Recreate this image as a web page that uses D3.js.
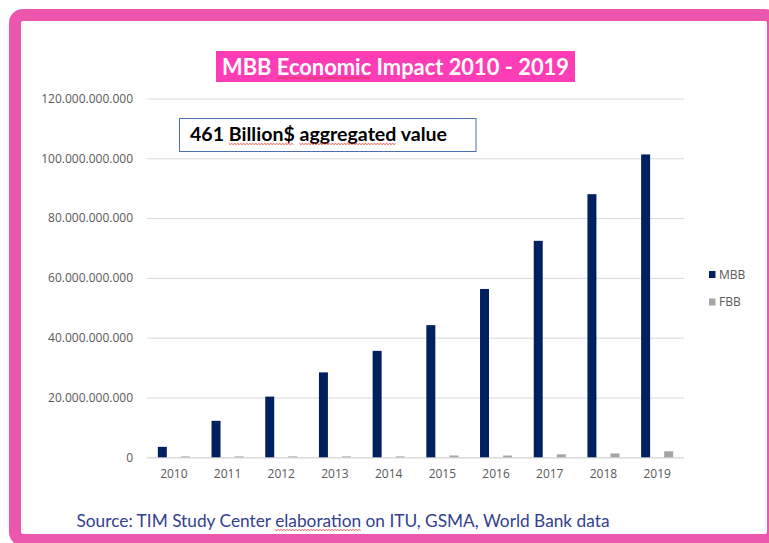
<!DOCTYPE html>
<html>
<head>
<meta charset="utf-8">
<script src="https://cdn.jsdelivr.net/npm/d3@7"></script>
<style>
  body { margin: 0; background: #ffffff; }
  svg { display: block; }
</style>
</head>
<body>
<div id="chart"></div>
<script>
// chart values (billions of $)
let years = ["2010", "2011", "2012", "2013", "2014", "2015", "2016", "2017", "2018", "2019"];
let mbbValues = [3.5, 12.2, 20.3, 28.4, 35.6, 44.2, 56.3, 72.4, 88.0, 101.3];
let fbbValues = [0.3, 0.3, 0.3, 0.3, 0.3, 0.6, 0.6, 1.0, 1.3, 2.0];
let seriesNames = ["MBB", "FBB"];
let seriesColors = ["#002060", "#a5a5a5"];
let yTicks = [0, 20, 40, 60, 80, 100, 120];

let titleText = "MBB Economic Impact 2010 - 2019";
let noteText = "461 Billion$ aggregated value";
let sourceText = "Source: TIM Study Center elaboration on ITU, GSMA, World Bank data";

let width = 769, height = 543;

let svg = d3.select("#chart").append("svg")
	.attr("width", width)
	.attr("height", height);

// pink frame round the slide
svg.append("rect")
	.attr("x", 15)
	.attr("y", 15)
	.attr("width", 758)
	.attr("height", 525)
	.attr("rx", 8)
	.attr("fill", "none")
	.attr("stroke", "#ec56ac")
	.attr("stroke-width", 12);

// scales
let x = d3.scaleBand()
	.domain(years)
	.range([147, 684]);

let x1 = d3.scaleBand()
	.domain(seriesNames)
	.range([0, x.bandwidth()])
	.paddingInner(0.61)
	.paddingOuter(0.47);

let y = d3.scaleLinear()
	.domain([0, 120])
	.range([457.3, 98.5]);

let fmt = d => d3.format(",")(d * 1e9).replace(/,/g, ".");

// gridlines + y labels
let yAxis = svg.append("g")
	.attr("transform", "translate(147,0)")
	.call(d3.axisLeft(y).tickValues(yTicks).tickSize(-(684 - 147)).tickPadding(14).tickFormat(fmt));
yAxis.select(".domain").remove();
yAxis.selectAll(".tick line").attr("stroke", "#d9d9d9");
yAxis.selectAll(".tick text")
	.attr("fill", "#595959")
	.attr("font-family", "Open Sans")
	.attr("font-size", 12);

// x labels
let xAxis = svg.append("g")
	.attr("transform", "translate(0,457.3)")
	.call(d3.axisBottom(x).tickSize(0).tickPadding(12));
xAxis.select(".domain").attr("stroke", "#d9d9d9");
xAxis.selectAll(".tick text")
	.attr("fill", "#595959")
	.attr("font-family", "Open Sans")
	.attr("font-size", 12);

// bars
let rows = years.map((yr, i) => ({year: yr, MBB: mbbValues[i], FBB: fbbValues[i]}));

let groups = svg.append("g").selectAll("g")
	.data(rows)
	.enter()
	.append("g")
	.attr("transform", d => "translate(" + x(d.year) + ",0)");

groups.selectAll("rect")
	.data(d => seriesNames.map((s, j) => ({key: s, value: d[s], color: seriesColors[j]})))
	.enter()
	.append("rect")
	.attr("x", d => x1(d.key))
	.attr("width", x1.bandwidth())
	.attr("y", d => y(d.value))
	.attr("height", d => y(0) - y(d.value))
	.attr("fill", d => d.color);

// legend
let legend = svg.append("g").attr("transform", "translate(709,271)");
seriesNames.forEach((s, i) => {
	legend.append("rect")
		.attr("x", 0)
		.attr("y", i * 27.5)
		.attr("width", 6.5)
		.attr("height", 7)
		.attr("fill", seriesColors[i]);
	legend.append("text")
		.attr("x", 10)
		.attr("y", i * 27.5 + 3.5)
		.attr("dy", "0.35em")
		.attr("fill", "#595959")
		.attr("font-family", "Open Sans")
		.attr("font-size", 12)
		.text(s);
});

// title box
svg.append("rect")
	.attr("x", 216)
	.attr("y", 51)
	.attr("width", 359)
	.attr("height", 31)
	.attr("fill", "#fd3db5");

let title = svg.append("text")
	.attr("x", 222)
	.attr("y", 74.5)
	.attr("fill", "#ffffff")
	.attr("font-family", "Lato")
	.attr("font-weight", "bold")
	.attr("font-size", 22)
	.attr("textLength", 347)
	.attr("lengthAdjust", "spacingAndGlyphs")
	.text(titleText);

// annotation box
svg.append("rect")
	.attr("x", 179.5)
	.attr("y", 118.5)
	.attr("width", 296.5)
	.attr("height", 33)
	.attr("fill", "#ffffff")
	.attr("stroke", "#4f6fae")
	.attr("stroke-width", 1);

let note = svg.append("text")
	.attr("x", 190)
	.attr("y", 140.5)
	.attr("fill", "#000000")
	.attr("font-family", "Lato")
	.attr("font-weight", "bold")
	.attr("font-size", 18)
	.attr("textLength", 257)
	.attr("lengthAdjust", "spacingAndGlyphs")
	.text(noteText);

// source line
let source = svg.append("text")
	.attr("x", 76.5)
	.attr("y", 526.5)
	.attr("fill", "#323f8f")
	.attr("font-family", "Lato")
	.attr("font-size", 18)
	.attr("textLength", 533)
	.attr("lengthAdjust", "spacingAndGlyphs")
	.text(sourceText);

// red spell-check squiggles under some words
function squiggle(textSel, word, dy) {
	let node = textSel.node();
	let str = node.textContent;
	let i = str.indexOf(word);
	if (i < 0) return;
	let x0 = node.getStartPositionOfChar(i).x;
	let x1e = node.getEndPositionOfChar(i + word.length - 1).x;
	let yb = +textSel.attr("y") + dy;
	let pts = [];
	for (let px = x0, k = 0; px <= x1e; px += 1.5, k++) {
		pts.push([px, yb + (k % 2 ? 1 : 0)]);
	}
	svg.append("path")
		.attr("d", d3.line()(pts))
		.attr("fill", "none")
		.attr("stroke", "#e0302a")
		.attr("stroke-width", 0.8);
}
squiggle(title, "Economic", 3);
squiggle(note, "Billion$", 3);
squiggle(note, "aggregated", 3);
squiggle(source, "elaboration", 3);
</script>
</body>
</html>
